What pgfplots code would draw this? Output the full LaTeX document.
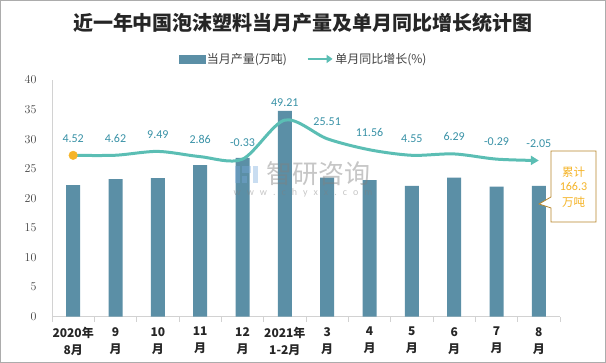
\documentclass[border=0pt]{standalone}
\usepackage{fontspec}
\setmainfont{Carlito}
\newfontfamily\cjk{Noto Sans CJK SC}
\usepackage{pgfplots}
\pgfplotsset{compat=1.18}
\usetikzlibrary{arrows.meta}
\definecolor{barc}{RGB}{91,143,166}
\definecolor{linec}{RGB}{91,190,180}
\definecolor{labc}{RGB}{56,145,166}
\definecolor{orng}{RGB}{245,180,40}
\definecolor{boxc}{RGB}{184,134,43}
\definecolor{axc}{RGB}{210,210,210}
\definecolor{tickc}{RGB}{64,64,64}
\definecolor{logoc}{RGB}{120,170,220}
\begin{document}
\begin{tikzpicture}[x=1pt,y=1pt]
\useasboundingbox (0,0) rectangle (606,363);
\draw[gray!65, line width=1pt] (0.5,0.5) rectangle (605.5,362.5);
\node[font=\cjk\bfseries\fontsize{20}{24}\selectfont, text=black!85] at (303,340) {近一年中国泡沫塑料当月产量及单月同比增长统计图};
\begin{axis}[
  at={(52pt,46.3pt)}, anchor=south west, scale only axis,
  width=508pt, height=236.7pt,
  xmin=-0.5, xmax=11.5, ymin=0, ymax=40,
  ytick={0,5,...,40},
  xtick={0,...,11},
  xticklabels={{2020年\\8月},{9\\月},{10\\月},{11\\月},{12\\月},{2021年\\1-2月},{3\\月},{4\\月},{5\\月},{6\\月},{7\\月},{8\\月}},
  minor xtick={-0.5,0.5,...,11.5},
  axis x line*=bottom, axis y line*=left,
  axis line style={-, draw=axc, line width=0.8pt},
  major tick length=0pt, minor tick length=5pt, tick align=outside,
  minor tick style={draw=axc, line width=0.8pt},
  yticklabel style={font=\fontsize{11.5}{13}\selectfont, text=tickc, xshift=-12pt},
  xticklabel style={font=\cjk\bfseries\fontsize{12}{17}\selectfont, align=center, text=black!85, yshift=-7pt},
  ybar, bar width=14pt,
]
\addplot[fill=barc, draw=none] coordinates {
  (0,22.25) (1,23.26) (2,23.43) (3,25.6) (4,26.86) (5,34.8)
  (6,23.5) (7,23.1) (8,22.1) (9,23.5) (10,21.96) (11,22.1)};
\end{axis}
\begin{scope}[opacity=0.4]
\fill[logoc] (235,180) rectangle (240,197);
\fill[logoc] (242,190) rectangle (251,197);
\fill[logoc] (242,180) rectangle (247,187);
\fill[logoc] (253,180) rectangle (258,197);
\end{scope}
\node[font=\cjk\fontsize{26}{28}\selectfont, text=gray, opacity=0.45] at (318,189) {智研咨询};
\node[font=\fontsize{10}{12}\selectfont, text=gray, opacity=0.45] at (303,170) {w\hspace{6pt}w\hspace{6pt}w\hspace{6pt}.\hspace{6pt}c\hspace{6pt}h\hspace{6pt}y\hspace{6pt}x\hspace{6pt}x\hspace{6pt}.\hspace{6pt}c\hspace{6pt}o\hspace{6pt}m};
\begin{axis}[
  at={(52pt,46.3pt)}, anchor=south west, scale only axis,
  width=508pt, height=236.7pt,
  xmin=-0.5, xmax=11.5, ymin=-200, ymax=100,
  hide axis, clip=false,
  legend columns=2,
  legend style={at={(0.495,1.089)}, anchor=center, draw=none, fill=none,
    font=\cjk\fontsize{12}{14}\selectfont, text=black!75,
    /tikz/every even column/.append style={column sep=18pt},
    nodes={inner sep=1.5pt}},
]
\addlegendimage{legend image code/.code={\fill[barc] (0pt,-4pt) rectangle (26pt,4pt);}}
\addlegendentry{当月产量(万吨)}
\addplot[linec, line width=3pt, smooth, tension=0.5,
  -{Triangle[length=8pt,width=9pt]},
  nodes near coords, point meta=explicit symbolic,
  nodes near coords style={font=\fontsize{12}{14}\selectfont, text=labc, anchor=center, yshift=17pt},
  legend image code/.code={\draw[linec, line width=2.5pt, -{Triangle[length=6pt,width=8pt]}] (0pt,0pt) -- (25pt,0pt);}]
  table[meta=lab] {
x y lab
0 4.52 4.52
1 4.62 4.62
2 9.49 9.49
3 2.86 2.86
4 -0.33 -0.33
5 49.21 49.21
6 25.51 25.51
7 11.56 11.56
8 4.55 4.55
9 6.29 6.29
10 -0.29 -0.29
11 -2.05 -2.05
};
\addlegendentry{单月同比增长(\%)}
\addplot[only marks, mark=*, mark size=4.3pt, orng, forget plot] coordinates {(0,4.52)};
\end{axis}
\draw[boxc, line width=0.8pt, fill=white] (551,212) -- (596,212) -- (596,141) -- (551,141) -- (551,155) -- (539,159) -- (551,166) -- cycle;
\node[font=\cjk\fontsize{11.5}{13}\selectfont, text=orng] at (573.5,191) {累计};
\node[font=\fontsize{12}{13}\selectfont, text=orng] at (573.5,176.3) {166.3};
\node[font=\cjk\fontsize{11.5}{13}\selectfont, text=orng] at (573.5,161.3) {万吨};
\end{tikzpicture}
\end{document}
